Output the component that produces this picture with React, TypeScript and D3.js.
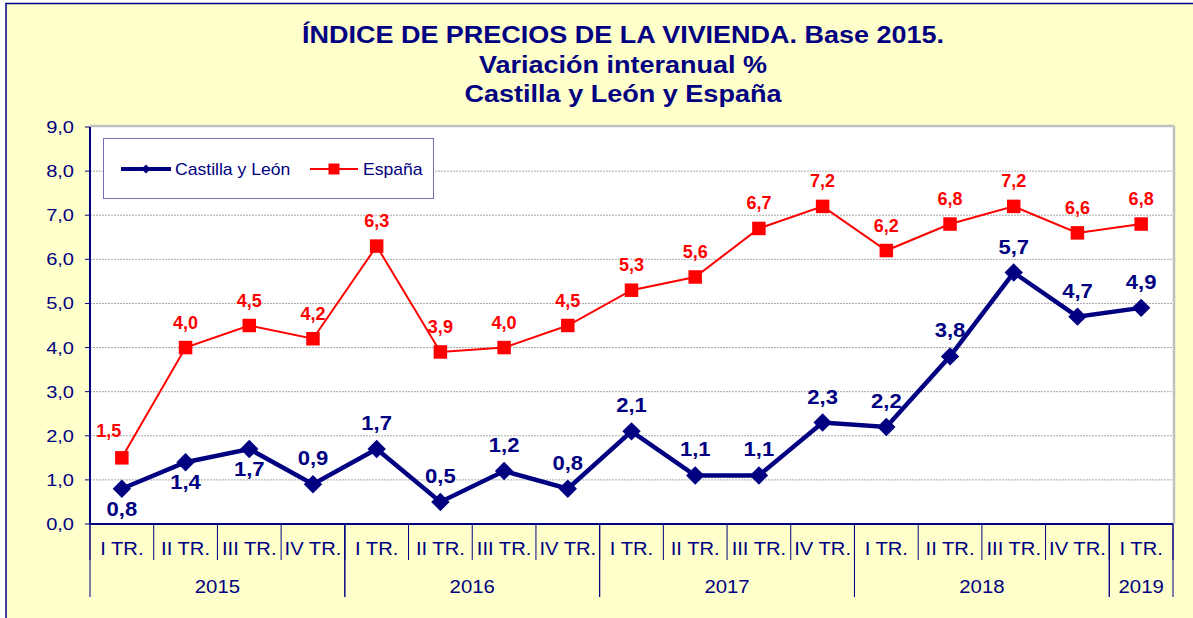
import React from "react";
import * as d3 from "d3";

const quarters = [
  "I TR.", "II TR.", "III TR.", "IV TR.",
  "I TR.", "II TR.", "III TR.", "IV TR.",
  "I TR.", "II TR.", "III TR.", "IV TR.",
  "I TR.", "II TR.", "III TR.", "IV TR.",
  "I TR.",
];
const quarterYears = [
  "2015", "2015", "2015", "2015",
  "2016", "2016", "2016", "2016",
  "2017", "2017", "2017", "2017",
  "2018", "2018", "2018", "2018",
  "2019",
];
const castillaYLeon = [0.8, 1.4, 1.7, 0.9, 1.7, 0.5, 1.2, 0.8, 2.1, 1.1, 1.1, 2.3, 2.2, 3.8, 5.7, 4.7, 4.9];
const espana = [1.5, 4.0, 4.5, 4.2, 6.3, 3.9, 4.0, 4.5, 5.3, 5.6, 6.7, 7.2, 6.2, 6.8, 7.2, 6.6, 6.8];
const castillaLabelPlacement = [
  "below", "below", "below", "above", "above", "above", "above", "above",
  "above", "above", "above", "above", "above", "above", "above", "above", "above",
];
const espanaLabelPlacement = [
  "left", "above", "above", "above", "above", "above", "above", "above",
  "above", "above", "above", "above", "above", "above", "above", "above", "above",
];
const yTicks = [0, 1, 2, 3, 4, 5, 6, 7, 8, 9];
const titleLines = [
  "ÍNDICE DE PRECIOS DE LA VIVIENDA. Base 2015.",
  "Variación interanual %",
  "Castilla y León y España",
];
const seriesNames = ["Castilla y León", "España"];

const NAVY = "#000080";
const RED = "#FF0000";
const BG = "#FFFFCC";
const FONT = "'Liberation Sans', Arial, sans-serif";

const fmt = (v: number) => v.toFixed(1).replace(".", ",");

function T({ x, y, sx = 1.15, children, ...props }: any) {
  return (
    <g transform={`translate(${x},${y}) scale(${sx},1)`}>
      <text x={0} y={0} fontFamily={FONT} {...props}>
        {children}
      </text>
    </g>
  );
}

export default function App() {
  const W = 1193;
  const H = 618;
  const plot = { left: 90, right: 1173, top: 127, bottom: 524 };

  const x = d3
    .scaleBand<number>()
    .domain(d3.range(quarters.length))
    .range([plot.left, plot.right])
    .padding(0);
  const y = d3.scaleLinear().domain([0, 9]).range([plot.bottom, plot.top]);
  const cx = (i: number) => (x(i) as number) + x.bandwidth() / 2;

  const line = d3
    .line<number>()
    .x((_, i) => cx(i))
    .y((d) => y(d));

  const diamond = d3.symbol().type(d3.symbolSquare).size(13 * 13)() as string;
  const square = d3.symbol().type(d3.symbolSquare).size(13.5 * 13.5)() as string;
  const diamondSmall = d3.symbol().type(d3.symbolSquare).size(6.5 * 6.5)() as string;
  const squareSmall = d3.symbol().type(d3.symbolSquare).size(11 * 11)() as string;

  const groups: { year: string; start: number; end: number }[] = [];
  quarterYears.forEach((yr, i) => {
    const g = groups[groups.length - 1];
    if (g && g.year === yr) g.end = i;
    else groups.push({ year: yr, start: i, end: i });
  });
  const boundaryX = (i: number) => (i >= quarters.length ? plot.right : (x(i) as number));

  const titleWidths = [642, 288, 317];
  const titleBaselines = [43, 73, 102];

  return (
    <div style={{ position: "absolute", left: 0, top: 0 }}>
      <svg width={W} height={H} style={{ display: "block" }}>
        <rect x={0} y={0} width={W} height={H} fill="#FFFFFF" />
        <rect x={6} y={3.5} width={W + 20} height={H + 20} fill={BG} stroke={NAVY} strokeWidth={1.5} />

        {titleLines.map((t, i) => (
          <text
            key={i}
            x={623}
            y={titleBaselines[i]}
            textAnchor="middle"
            fontFamily={FONT}
            fontWeight="bold"
            fontSize={23}
            fill={NAVY}
            textLength={titleWidths[i]}
            lengthAdjust="spacingAndGlyphs"
          >
            {t}
          </text>
        ))}

        <rect
          x={plot.left}
          y={plot.top}
          width={plot.right - plot.left}
          height={plot.bottom - plot.top}
          fill="#FFFFFF"
        />
        {yTicks.slice(1, -1).map((t) => (
          <line
            key={t}
            x1={plot.left}
            x2={plot.right}
            y1={y(t)}
            y2={y(t)}
            stroke="#A8A8A8"
            strokeWidth={1}
            strokeDasharray="2,1"
          />
        ))}
        <line x1={plot.left} x2={plot.right + 1} y1={plot.top - 1} y2={plot.top - 1} stroke="#C0C0C0" strokeWidth={2.5} />
        <line x1={plot.right + 1} x2={plot.right + 1} y1={plot.top - 1} y2={plot.bottom} stroke="#C0C0C0" strokeWidth={2.5} />

        <line x1={plot.left} x2={plot.left} y1={plot.top} y2={plot.bottom} stroke={NAVY} strokeWidth={2} />
        {yTicks.map((t) => (
          <g key={t}>
            <line x1={plot.left - 5} x2={plot.left} y1={y(t)} y2={y(t)} stroke={NAVY} strokeWidth={1} />
            <T x={74} y={y(t) + 6} sx={1.18} textAnchor="end" fontSize={17} fill={NAVY}>
              {fmt(t)}
            </T>
          </g>
        ))}

        <line x1={plot.left} x2={plot.right} y1={plot.bottom} y2={plot.bottom} stroke={NAVY} strokeWidth={2} />
        {d3.range(quarters.length + 1).map((i) => (
          <line
            key={i}
            x1={boundaryX(i)}
            x2={boundaryX(i)}
            y1={plot.bottom}
            y2={560}
            stroke={NAVY}
            strokeWidth={1}
          />
        ))}
        {quarters.map((q, i) => (
          <T key={i} x={cx(i)} y={555} sx={1.12} textAnchor="middle" fontSize={18} fill={NAVY}>
            {q}
          </T>
        ))}
        {groups.map((g, i) => (
          <g key={i}>
            <line x1={boundaryX(g.start)} x2={boundaryX(g.start)} y1={plot.bottom} y2={597} stroke={NAVY} strokeWidth={1} />
            <line x1={boundaryX(g.end + 1)} x2={boundaryX(g.end + 1)} y1={plot.bottom} y2={597} stroke={NAVY} strokeWidth={1} />
            <T
              x={(boundaryX(g.start) + boundaryX(g.end + 1)) / 2}
              y={593}
              sx={1.1}
              textAnchor="middle"
              fontSize={18.5}
              fill={NAVY}
            >
              {g.year}
            </T>
          </g>
        ))}

        <path d={line(espana) as string} fill="none" stroke={RED} strokeWidth={2} />
        {espana.map((v, i) => (
          <path key={i} d={square} transform={`translate(${cx(i)},${y(v)})`} fill={RED} />
        ))}

        <path d={line(castillaYLeon) as string} fill="none" stroke={NAVY} strokeWidth={4.5} strokeLinejoin="miter" />
        {castillaYLeon.map((v, i) => (
          <path key={i} d={diamond} transform={`translate(${cx(i)},${y(v)}) rotate(45)`} fill={NAVY} />
        ))}

        {espana.map((v, i) => {
          const p = espanaLabelPlacement[i];
          const dx = p === "left" ? -13 : 0;
          const dy = p === "left" ? -21 : -19;
          return (
            <T key={i} x={cx(i) + dx} y={y(v) + dy} sx={1.03} textAnchor="middle" fontSize={17.5} fontWeight="bold" fill={RED}>
              {fmt(v)}
            </T>
          );
        })}
        {castillaYLeon.map((v, i) => {
          const p = castillaLabelPlacement[i];
          const dy = p === "below" ? 27 : -19;
          return (
            <T key={i} x={cx(i)} y={y(v) + dy} sx={1.05} textAnchor="middle" fontSize={21} fontWeight="bold" fill={NAVY}>
              {fmt(v)}
            </T>
          );
        })}

        <rect x={103.5} y={138.5} width={330} height={60} fill="#FFFFFF" stroke="#7070B8" strokeWidth={1} />
        <line x1={121} x2={171} y1={169} y2={169} stroke={NAVY} strokeWidth={4} />
        <path d={diamondSmall} transform="translate(146,169) rotate(45)" fill={NAVY} />
        <T x={175} y={175} sx={1.1} fontSize={16} fill={NAVY}>
          {seriesNames[0]}
        </T>
        <line x1={310} x2={358} y1={169} y2={169} stroke={RED} strokeWidth={2} />
        <path d={squareSmall} transform="translate(334,169)" fill={RED} />
        <T x={363} y={175} sx={1.1} fontSize={16} fill={NAVY}>
          {seriesNames[1]}
        </T>
      </svg>
    </div>
  );
}
